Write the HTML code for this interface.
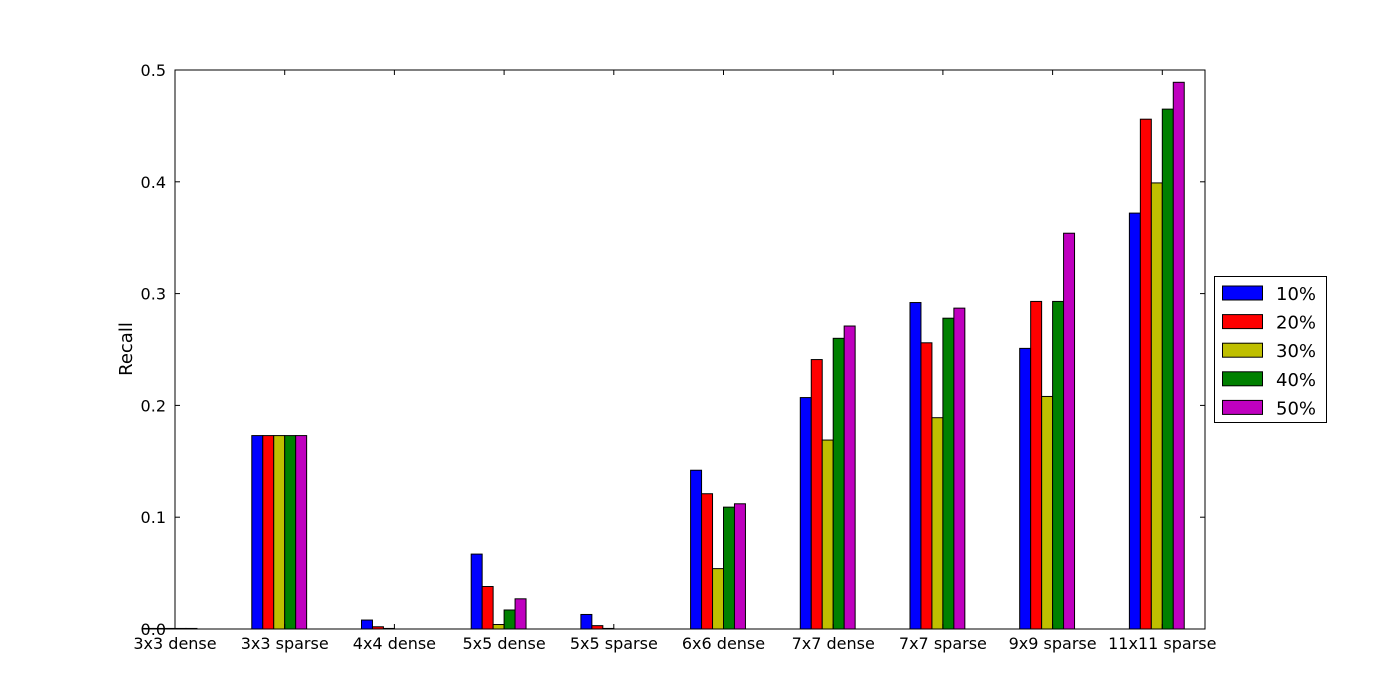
<!DOCTYPE html>
<html><head><meta charset="utf-8"><style>
body{margin:0;background:#fff;}
svg{display:block;font-family:"DejaVu Sans","Liberation Sans",sans-serif;}
</style></head><body>
<svg id="chart" width="1400" height="700"></svg>
<script>
const categories=["3x3 dense","3x3 sparse","4x4 dense","5x5 dense","5x5 sparse","6x6 dense","7x7 dense","7x7 sparse","9x9 sparse","11x11 sparse"];
const seriesNames=["10%","20%","30%","40%","50%"];
const s10=[0.0005,0.173,0.008,0.067,0.013,0.142,0.207,0.292,0.251,0.372];
const s20=[0.0005,0.173,0.002,0.038,0.003,0.121,0.241,0.256,0.293,0.456];
const s30=[0.0005,0.173,0.0005,0.004,0.0005,0.054,0.169,0.189,0.208,0.399];
const s40=[0.0005,0.173,0,0.017,0,0.109,0.260,0.278,0.293,0.465];
const s50=[0.0005,0.173,0,0.027,0,0.112,0.271,0.287,0.354,0.489];
const yTicks=[0,0.1,0.2,0.3,0.4,0.5];
const yTickLabels=["0.0","0.1","0.2","0.3","0.4","0.5"];
const series=[s10,s20,s30,s40,s50];
const colors=["#0000ff","#ff0000","#bfbf00","#008000","#bf00bf"];
const L=175,R=1205,T=70,B=629;
const xs=v=>L+v*109.7;
const ys=v=>B-(v/0.5)*(B-T);
const svg=document.getElementById('chart');
const NS="http://www.w3.org/2000/svg";
function mk(tag,attrs,parent){const e=document.createElementNS(NS,tag);for(const k in attrs)e.setAttribute(k,attrs[k]);(parent||svg).appendChild(e);return e;}
series.forEach((s,si)=>{s.forEach((v,ci)=>{
 const x0=xs(ci-0.3+si*0.1);
 const r=mk('rect',{x:x0,y:ys(v),width:xs(0.1)-xs(0),height:Math.max(0,B-ys(v)),fill:colors[si],stroke:'#000','stroke-width':1});
 
 
});});
const frame=mk('rect',{x:L,y:T,width:R-L,height:B-T,fill:'none',stroke:'#000','stroke-width':1});


yTicks.forEach((v,i)=>{
 const y=ys(v);
 mk('line',{x1:L,x2:L+5,y1:y,y2:y,stroke:'#000'});
 mk('line',{x1:R,x2:R-5,y1:y,y2:y,stroke:'#000'});
 const t=mk('text',{x:L-9,y:y+6,'text-anchor':'end','font-size':16});
 t.textContent=yTickLabels[i];
 
 
});
categories.forEach((c,i)=>{
 const x=xs(i);
 mk('line',{x1:x,x2:x,y1:B,y2:B-5,stroke:'#000'});
 mk('line',{x1:x,x2:x,y1:T,y2:T+5,stroke:'#000'});
 const t=mk('text',{x:x,y:B+20,'text-anchor':'middle','font-size':16});
 t.textContent=c;
 
 
});
const yl=mk('text',{x:137,y:349,'text-anchor':'middle','font-size':18,transform:'rotate(-90 137 349)'});
yl.setAttribute('x',132);
yl.setAttribute('transform','rotate(-90 132 349)');
yl.textContent='Recall';


const lg=mk('g',{});


mk('rect',{x:1214.5,y:276.5,width:112,height:146,fill:'#fff',stroke:'#000'},lg);
seriesNames.forEach((n,i)=>{
 const y=293+i*28.6;
 const sw=mk('rect',{x:1222.5,y:y-7,width:40,height:14,fill:colors[i],stroke:'#000'},lg);
 
 
 const t=mk('text',{x:1276,y:y+7,'font-size':18},lg);
 t.textContent=n;
 
 
});
</script>
</body></html>
